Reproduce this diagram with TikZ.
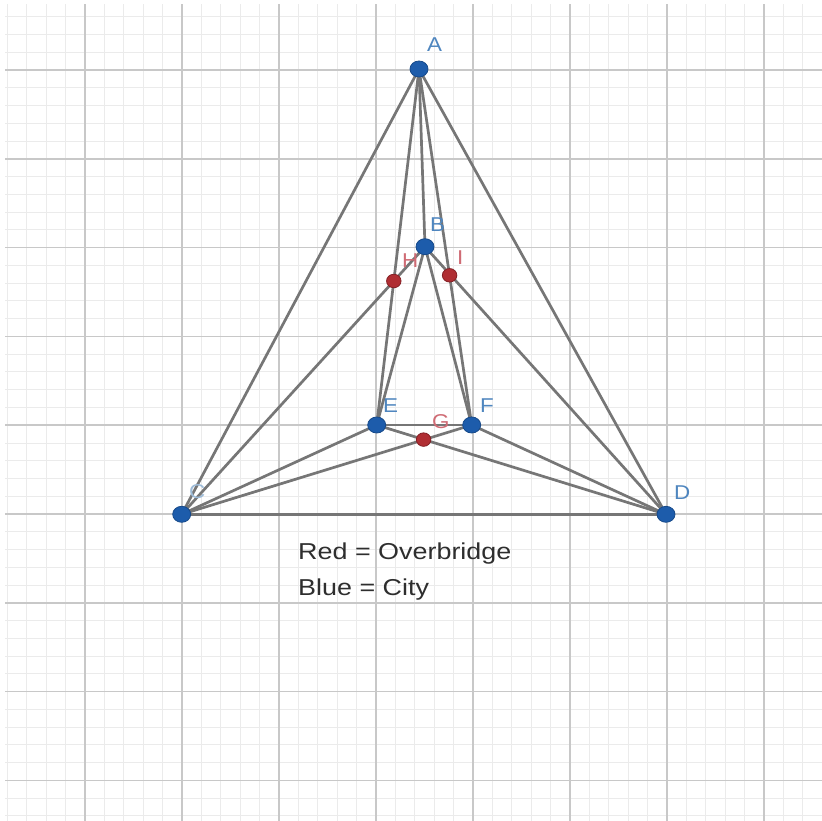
\documentclass[tikz,border=0pt]{standalone}
\usepackage{fontspec}
\setmainfont{Liberation Sans}
\usetikzlibrary{shapes.geometric}
\pgfdeclarelayer{gridlayer}
\pgfdeclarelayer{edgelayer}
\pgfsetlayers{gridlayer,edgelayer,main}
\definecolor{minorgrid}{HTML}{EBEBEB}
\definecolor{majorgrid}{HTML}{C8C8C8}
\definecolor{edgegray}{HTML}{767676}
\definecolor{cityfill}{HTML}{1D5CAB}
\definecolor{citydraw}{HTML}{174A8A}
\definecolor{bridgefill}{HTML}{B02E33}
\definecolor{bridgedraw}{HTML}{842025}
\definecolor{citylabel}{HTML}{4F86BF}
\definecolor{bridgelabel}{HTML}{CF6B74}
\definecolor{clabel}{HTML}{9DBBD8}
\definecolor{legendtext}{HTML}{2E2E2E}
\begin{document}
\begin{tikzpicture}[x=1pt,y=-1pt,
  city/.style={ellipse,draw=citydraw,fill=cityfill,line width=0.8pt,minimum width=18pt,minimum height=16pt,inner sep=0pt},
  bridge/.style={ellipse,draw=bridgedraw,fill=bridgefill,line width=0.8pt,minimum width=14.5pt,minimum height=13.5pt,inner sep=0pt},
  edge/.style={draw=edgegray,line width=2.7pt},
  lbl/.style={font=\fontsize{20}{24}\selectfont,anchor=base west,inner sep=0pt,xscale=1.12},
  citylbl/.style={lbl,text=citylabel},
  bridgelbl/.style={lbl,text=bridgelabel},
  legend/.style={font=\fontsize{23}{27}\selectfont,anchor=base west,inner sep=0pt,xscale=1.17,text=legendtext}]
\useasboundingbox (0,0) rectangle (822,821);

% grid
\begin{pgfonlayer}{gridlayer}
\fill[white] (0,0) rectangle (822,821);
\begin{scope}
\clip (5,5) rectangle (822,821);
\foreach \k in {-4,...,38} \draw[minorgrid,line width=0.9pt] ({85+19.4*\k},0) -- ({85+19.4*\k},821);
\foreach \k in {-4,...,43} \draw[minorgrid,line width=0.9pt] (0,{70+17.76*\k}) -- (822,{70+17.76*\k});
\foreach \k in {-1,...,8} \draw[majorgrid,line width=1.6pt] ({85+97*\k},0) -- ({85+97*\k},821);
\foreach \k in {-1,...,9} \draw[majorgrid,line width=1.6pt] (0,{70+88.8*\k}) -- (822,{70+88.8*\k});
\end{scope}
\end{pgfonlayer}

% cities
\node[city] (A) at (419,69) {};
\node[city] (B) at (425,246.7) {};
\node[city] (C) at (181.7,514.3) {};
\node[city] (D) at (666,514.3) {};
\node[city] (E) at (376.7,425) {};
\node[city] (F) at (471.7,425) {};

% overbridges
\node[bridge] (H) at (393.8,281) {};
\node[bridge] (I) at (449.6,275.3) {};
\node[bridge] (G) at (423.6,439.6) {};

% edges
\begin{pgfonlayer}{edgelayer}
\foreach \u/\v in {A/C,A/D,C/D,A/E,A/F,A/B,B/E,B/F,C/B,B/D,C/E,C/F,E/D,F/D,E/F}
  \draw[edge] (\u.center) -- (\v.center);
\end{pgfonlayer}

% labels
\node[citylbl] (lA) at (427,52) {A};
\node[citylbl] (lB) at (430,232) {B};
\node[lbl,text=clabel] (lC) at (189,498) {C};
\node[citylbl] (lD) at (674,499) {D};
\node[citylbl] (lE) at (383,412) {E};
\node[citylbl] (lF) at (480,412) {F};
\node[bridgelbl] (lG) at (432,428) {G};
\node[bridgelbl] (lH) at (402,268) {H};
\node[bridgelbl] (lI) at (457,265) {I};

% legend
\node[legend] (red) at (298,559) {Red = Overbridge};
\node[legend] (blue) at (298,595) {Blue = City};
\end{tikzpicture}
\end{document}
